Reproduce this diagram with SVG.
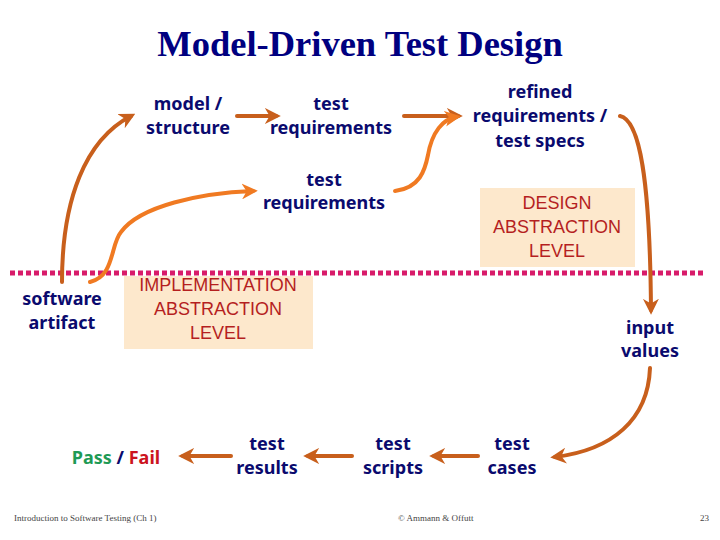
<svg xmlns="http://www.w3.org/2000/svg" width="720" height="540" viewBox="0 0 720 540">
<defs>
<style>
.t{font-family:"Noto Sans","Open Sans",sans-serif;font-weight:700;font-size:18px;fill:#0a0a6e;text-anchor:middle}
.lv{font-family:"Liberation Sans",Arial,sans-serif;font-size:18px;fill:#b51f1f;text-anchor:middle}
.box{fill:#fde8cc}
.a{fill:none;stroke:#c85f1c;stroke-width:4;stroke-linecap:round;marker-end:url(#ah)}
.b{fill:none;stroke:#f07a22;stroke-width:4;stroke-linecap:round}
.ft{font-family:"Liberation Serif","Times New Roman",serif;font-size:9px;fill:#444}
</style>
<marker id="ah" viewBox="0 0 10 10" refX="7" refY="5" markerWidth="4" markerHeight="4" orient="auto" markerUnits="strokeWidth">
<path d="M0,0 L10,5 L0,10 L3,5 Z" fill="#c85f1c"/>
</marker>
<marker id="ah2" viewBox="0 0 10 10" refX="7" refY="5" markerWidth="4" markerHeight="4" orient="auto" markerUnits="strokeWidth">
<path d="M0,0 L10,5 L0,10 L3,5 Z" fill="#f07a22"/>
</marker>
</defs>
<rect width="720" height="540" fill="#fff"/>
<text x="360" y="56" text-anchor="middle" font-family="Liberation Serif,'Times New Roman',serif" font-weight="700" font-size="36.5" fill="#000080">Model-Driven Test Design</text>

<g id="levels">
<rect class="box" x="480" y="188" width="155" height="79"/>
<text class="lv" x="557" y="209">DESIGN</text>
<text class="lv" x="557" y="233">ABSTRACTION</text>
<text class="lv" x="557" y="257">LEVEL</text>
<rect class="box" x="124" y="276" width="189" height="73"/>
<text class="lv" x="218" y="291">IMPLEMENTATION</text>
<text class="lv" x="218" y="315">ABSTRACTION</text>
<text class="lv" x="218" y="339">LEVEL</text>
<line x1="10" y1="273" x2="706" y2="273" stroke="#d81b6a" stroke-width="5" stroke-dasharray="5,3"/>
</g>

<g id="connectors">
<path class="a" d="M62 282 C62 200 85 140 131 116"/>
<line class="a" x1="237" y1="116" x2="276" y2="116"/>
<line class="a" x1="404" y1="116" x2="458" y2="116"/>
<path class="b" marker-end="url(#ah2)" d="M90 282 C115 276 110 245 121 232 C140 206 200 193 253 191"/>
<path class="b" marker-end="url(#ah2)" d="M395 191 C420 188 425 170 428 155 C432 132 443 119 456 117"/>
<path class="a" d="M620 116 C640 120 650 180 651 310"/>
<path class="a" d="M650 368 C648 420 612 450 555 457"/>
<line class="a" x1="478" y1="456" x2="434" y2="456"/>
<line class="a" x1="352" y1="456" x2="308" y2="456"/>
<line class="a" x1="231" y1="456" x2="183" y2="456"/>
</g>

<g id="n-model"><text class="t" x="188" y="110">model /</text><text class="t" x="188" y="134">structure</text></g>
<g id="n-testreq1"><text class="t" x="331" y="110">test</text><text class="t" x="331" y="134">requirements</text></g>
<g id="n-refined"><text class="t" x="540" y="98">refined</text><text class="t" x="540" y="122">requirements /</text><text class="t" x="540" y="147">test specs</text></g>
<g id="n-testreq2"><text class="t" x="324" y="186">test</text><text class="t" x="324" y="209">requirements</text></g>
<g id="n-software"><text class="t" x="62" y="305">software</text><text class="t" x="62" y="329">artifact</text></g>
<g id="n-input"><text class="t" x="650" y="334">input</text><text class="t" x="650" y="357">values</text></g>
<g id="n-cases"><text class="t" x="512" y="450">test</text><text class="t" x="512" y="474">cases</text></g>
<g id="n-scripts"><text class="t" x="393" y="450">test</text><text class="t" x="393" y="474">scripts</text></g>
<g id="n-results"><text class="t" x="267" y="450">test</text><text class="t" x="267" y="474">results</text></g>
<g id="n-passfail"><text class="t" x="116" y="464" font-size="20"><tspan fill="#1e9a55">Pass</tspan> / <tspan fill="#cc1420">Fail</tspan></text></g>

<g id="footer">
<text class="ft" x="14" y="521">Introduction to Software Testing (Ch 1)</text>
<text class="ft" x="398" y="521">© Ammann &amp; Offutt</text>
<text class="ft" x="709" y="521" text-anchor="end">23</text>
</g>
</svg>
